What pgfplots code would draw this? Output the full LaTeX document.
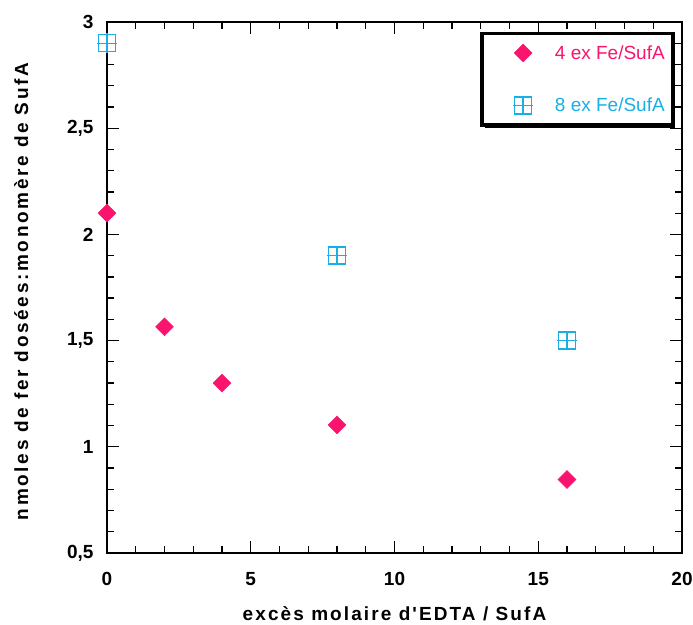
\documentclass[border=0pt]{standalone}
\usepackage{pgfplots}
\pgfplotsset{compat=1.18}
\usepackage{fontspec}
\setmainfont{Liberation Sans}
\newfontfamily\xlblfont[LetterSpace=11]{Liberation Sans}
\newfontfamily\ylblfont[LetterSpace=14]{Liberation Sans}
\usetikzlibrary{shadows}
\definecolor{pinkc}{RGB}{250,20,110}
\definecolor{cyanc}{RGB}{25,175,230}
\pgfdeclareplotmark{gridsq}{%
  \pgfpathrectangle{\pgfqpoint{-\pgfplotmarksize}{-\pgfplotmarksize}}{\pgfqpoint{2\pgfplotmarksize}{2\pgfplotmarksize}}%
  \pgfpathmoveto{\pgfqpoint{-1.15\pgfplotmarksize}{0pt}}\pgfpathlineto{\pgfqpoint{1.15\pgfplotmarksize}{0pt}}%
  \pgfpathmoveto{\pgfqpoint{0pt}{-1.15\pgfplotmarksize}}\pgfpathlineto{\pgfqpoint{0pt}{1.15\pgfplotmarksize}}%
  \pgfusepathqstroke}
\begin{document}
\begin{tikzpicture}
\begin{axis}[
  set layers=standard,
  clip=false,
  scale only axis, width=575pt, height=531pt,
  xmin=0, xmax=20, ymin=0.5, ymax=3,
  xtick={0,5,10,15,20}, ytick={0.5,1,1.5,2,2.5,3},
  minor x tick num=4, minor y tick num=4,
  tick align=inside, tickpos=both,
  major tick length=12pt, minor tick length=7pt,
  axis line style={line width=1.8pt},
  every tick/.style={black, line width=1.3pt},
  /pgf/number format/use comma,
  /pgf/number format/assume math mode=true,
  ticklabel style={font=\bfseries\fontsize{19}{19}\selectfont},
  xticklabel style={yshift=-16pt},
  yticklabel style={xshift=-10pt},
  xlabel={\xlblfont\bfseries excès molaire d'EDTA / SufA},
  ylabel={\ylblfont\bfseries nmoles de fer dosées:monomère de SufA},
  label style={font=\fontsize{19}{19}\selectfont},
  xlabel style={yshift=-14pt},
  ylabel style={yshift=32pt, xshift=-4pt},
  legend style={at={(0.987,0.982)}, anchor=north east, draw=black, line width=3.5pt,
    drop shadow={shadow xshift=2.5pt, shadow yshift=-2.5pt, fill=black, opacity=1},
    fill=white, inner xsep=6pt, inner ysep=10pt, row sep=33pt,
    font=\fontsize{19}{19}\selectfont},
  legend cell align=left,
  legend image code/.code={\pgfpathmoveto{\pgfqpoint{-5pt}{0pt}}\pgfpathlineto{\pgfqpoint{39pt}{0pt}}\pgfusepath{}%
    \draw[mark repeat=2,mark phase=2] plot coordinates {(0pt,0pt) (30pt,0pt) (39pt,0pt)};},
  every axis plot/.append style={on layer=axis foreground},
]
\coordinate (O) at (rel axis cs:0,0);
\coordinate (T) at (rel axis cs:1,1);
\addplot[only marks, mark=square*, mark size=6.3pt, mark options={rotate=45, fill=pinkc, draw=pinkc, line width=0.5pt}]
  coordinates {(0,2.10) (2,1.565) (4,1.30) (8,1.103) (16,0.846)};
\addlegendentry{\textcolor{pinkc}{\hspace{20pt}4 ex Fe/SufA}}
\addplot[only marks, mark=gridsq, mark size=8.5pt, mark options={draw=cyanc, line width=1.4pt}]
  coordinates {(0,2.90) (8,1.90) (16,1.50)};
\addlegendentry{\textcolor{cyanc}{\hspace{20pt}8 ex Fe/SufA}}
\end{axis}
\pgfresetboundingbox
\path[use as bounding box] ([shift={(-107pt,-72pt)}]O) rectangle ([shift={(11pt,22pt)}]T);
\end{tikzpicture}
\end{document}
